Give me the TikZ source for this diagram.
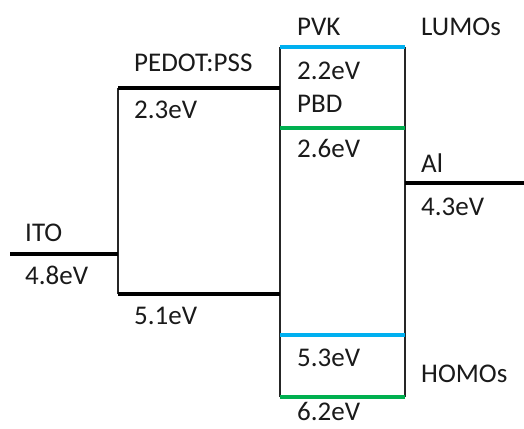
\documentclass[tikz,border=0pt]{standalone}
\usepackage{fontspec}
\setmainfont{Carlito}
\definecolor{lblue}{HTML}{00B0F0}
\definecolor{lgreen}{HTML}{00B050}
\definecolor{txt}{HTML}{1A1A1A}
\begin{document}
\begin{tikzpicture}[x=1pt,y=-1pt,
  lbl/.style={anchor=base west,inner sep=0pt,text=txt,font=\fontsize{27}{32}\selectfont},
  level/.style={line width=4pt,black},
  wall/.style={line width=1.6pt,black!85},
  bluelvl/.style={line width=4.5pt,lblue},
  greenlvl/.style={line width=4pt,lgreen}]
\useasboundingbox (0,0) rectangle (524,428);
% coordinates
\coordinate (itoL) at (10,254);
\coordinate (itoR) at (118,254);
\coordinate (pedT) at (118,88);
\coordinate (pedB) at (118,294);
\coordinate (pedTR) at (280,88);
\coordinate (pedBR) at (280,294);
\coordinate (boxTL) at (280,47);
\coordinate (boxTR) at (405,47);
\coordinate (boxBL) at (280,397);
\coordinate (boxBR) at (405,397);
\coordinate (pbdL) at (280,128);
\coordinate (pbdR) at (405,128);
\coordinate (homL) at (280,335);
\coordinate (homR) at (405,335);
\coordinate (alL) at (405,183);
\coordinate (alR) at (524,183);
% walls
\draw[wall] (pedT) -- (pedB);
\draw[wall] (boxTL) -- (boxBL);
\draw[wall] (boxTR) -- (boxBR);
% levels
\draw[level] (itoL) -- (itoR);
\draw[level] (pedT) -- (pedTR);
\draw[level] (pedB) -- (pedBR);
\draw[level] (alL) -- (alR);
\draw[bluelvl] (boxTL) -- (boxTR);
\draw[greenlvl] (pbdL) -- (pbdR);
\draw[bluelvl] (homL) -- (homR);
\draw[greenlvl] (boxBL) -- (boxBR);
% labels
\node[lbl] (ito) at (25,241) {ITO};
\node[lbl] (ito48) at (25,284) {4.8eV};
\node[lbl] (pedot) at (134,71) {PEDOT:PSS};
\node[lbl] (p23) at (134,118) {2.3eV};
\node[lbl] (p51) at (134,324) {5.1eV};
\node[lbl] (pvk) at (297,36) {PVK};
\node[lbl] (v22) at (297,79) {2.2eV};
\node[lbl] (pbd) at (297,112) {PBD};
\node[lbl] (b26) at (297,157) {2.6eV};
\node[lbl] (v53) at (297,366) {5.3eV};
\node[lbl] (b62) at (297,420) {6.2eV};
\node[lbl] (lumo) at (421,36) {LUMOs};
\node[lbl] (al) at (421,172) {Al};
\node[lbl] (al43) at (421,215) {4.3eV};
\node[lbl] (homo) at (421,382) {HOMOs};
\end{tikzpicture}
\end{document}
